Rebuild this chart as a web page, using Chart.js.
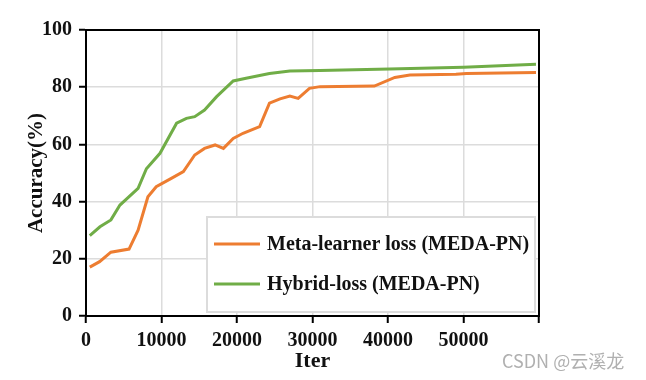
<!DOCTYPE html>
<html>
<head>
<meta charset="utf-8">
<script src="https://cdn.jsdelivr.net/npm/chart.js@4.4.0/dist/chart.umd.min.js"></script>
<style>
  body { margin: 0; background: #fff; }
  canvas { display: block; }
</style>
</head>
<body>
<canvas id="accChart" width="646" height="380"></canvas>
<script>
const metaIter = [500, 1800, 3300, 5700, 6900, 8200, 9300, 11300, 12900, 14400, 15700, 17100, 18200, 19500, 20800, 23000, 24300, 25700, 27000, 28100, 29600, 31000, 38200, 40900, 42900, 49000, 50400, 59600];
const metaAcc  = [17.1, 19.0, 22.3, 23.4, 30.0, 41.7, 45.2, 48.1, 50.5, 56.3, 58.6, 59.8, 58.6, 62.1, 63.9, 66.2, 74.4, 75.9, 76.9, 76.1, 79.6, 80.2, 80.4, 83.4, 84.3, 84.5, 84.8, 85.1];

const hybridIter = [500, 1850, 3300, 4500, 6900, 8000, 9800, 12000, 13300, 14400, 15700, 17300, 19500, 21200, 24300, 27000, 31000, 40200, 50000, 59600];
const hybridAcc  = [28.1, 31.2, 33.6, 38.8, 44.6, 51.5, 56.9, 67.4, 69.1, 69.7, 72.0, 76.7, 82.2, 83.1, 84.8, 85.7, 85.8, 86.4, 87.0, 88.0];

const seriesNames = ['Meta-learner loss (MEDA-PN)', 'Hybrid-loss (MEDA-PN)'];
const seriesColors = ['#ED7D31', '#70AD47'];

const toPoints = (xs, ys) => xs.map((x, i) => ({ x: x, y: ys[i] }));

const serif = "'Liberation Serif', 'Times New Roman', serif";

// frame on top/right, legend inside plot, watermark
const extras = {
  id: 'extras',
  afterDraw(chart) {
    const ctx = chart.ctx;
    const a = chart.chartArea;
    ctx.save();
    ctx.strokeStyle = '#000';
    ctx.lineWidth = 2;
    ctx.strokeRect(a.left, a.top, a.right - a.left, a.bottom - a.top);

    // legend box
    const bw = 328, bh = 95;
    const bx = a.right - 4 - bw, by = a.bottom - 4 - bh;
    ctx.fillStyle = '#fff';
    ctx.fillRect(bx, by, bw, bh);
    ctx.strokeStyle = '#dcdcdc';
    ctx.lineWidth = 2;
    ctx.strokeRect(bx, by, bw, bh);
    ctx.font = 'bold 20px ' + serif;
    ctx.textBaseline = 'middle';
    ctx.textAlign = 'left';
    chart.data.datasets.forEach((ds, i) => {
      const y = by + 27 + i * 40;
      ctx.strokeStyle = ds.borderColor;
      ctx.lineWidth = 3;
      ctx.beginPath();
      ctx.moveTo(bx + 7, y);
      ctx.lineTo(bx + 53, y);
      ctx.stroke();
      ctx.fillStyle = '#111';
      ctx.fillText(ds.label, bx + 60, y + 1);
    });

    ctx.font = "18px 'Noto Sans CJK SC', sans-serif";
    ctx.fillStyle = '#b0b0b0';
    ctx.fillText('CSDN @云溪龙', 502, 361);
    ctx.restore();
  }
};

new Chart(document.getElementById('accChart'), {
  type: 'line',
  data: {
    datasets: [
      {
        label: seriesNames[0],
        data: toPoints(metaIter, metaAcc),
        borderColor: seriesColors[0],
        borderWidth: 3,
        pointRadius: 0,
        tension: 0
      },
      {
        label: seriesNames[1],
        data: toPoints(hybridIter, hybridAcc),
        borderColor: seriesColors[1],
        borderWidth: 3,
        pointRadius: 0,
        tension: 0
      }
    ]
  },
  options: {
    responsive: false,
    animation: false,
    layout: { padding: { left: 0, right: 107, top: 30, bottom: 0 } },
    plugins: {
      legend: { display: false },
      tooltip: { enabled: false }
    },
    scales: {
      x: {
        type: 'linear',
        min: 0,
        max: 60000,
        afterFit: s => { s.height = 64; },
        ticks: {
          stepSize: 10000,
          color: '#111',
          padding: 6,
          maxRotation: 0,
          font: { family: serif, size: 20, weight: 'bold' },
          callback: v => (v === 60000 ? '' : String(v))
        },
        grid: { color: '#dcdcdc', lineWidth: 1.5, tickColor: '#000', tickLength: 7, tickWidth: 2 },
        border: { color: '#000', width: 2 },
        title: {
          display: true,
          text: 'Iter',
          color: '#111',
          font: { family: serif, size: 22, weight: 'bold' },
          padding: { top: 5, bottom: 5 }
        }
      },
      y: {
        min: 0,
        max: 100,
        afterFit: s => { s.width = 86; },
        ticks: {
          stepSize: 20,
          color: '#111',
          padding: 7,
          font: { family: serif, size: 20, weight: 'bold' }
        },
        grid: { color: '#dcdcdc', lineWidth: 1.5, tickColor: '#000', tickLength: 7, tickWidth: 2 },
        border: { color: '#000', width: 2 },
        title: {
          display: true,
          text: 'Accuracy(%)',
          color: '#111',
          font: { family: serif, size: 21, weight: 'bold' },
          padding: { top: 24, bottom: 24 }
        }
      }
    }
  },
  plugins: [extras]
});
</script>
</body>
</html>
